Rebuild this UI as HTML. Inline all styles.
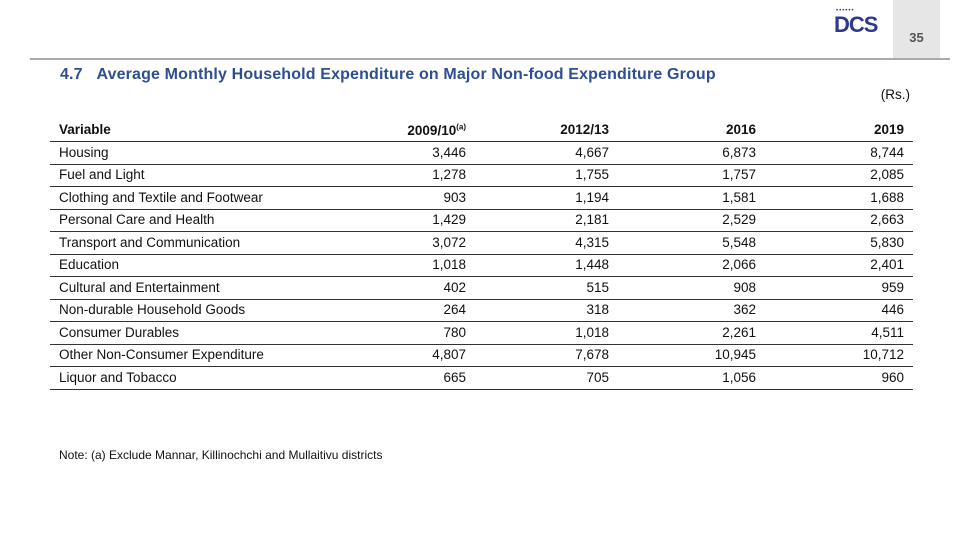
<!DOCTYPE html>
<html><head><meta charset="utf-8"><style>
body{margin:0;width:980px;height:551px;background:#fff;position:relative;overflow:hidden;font-family:"Liberation Sans","DejaVu Sans",sans-serif;color:#111}
.a{position:absolute;white-space:nowrap}
.r{text-align:right}
.t{font-size:13.5px}
.hl{position:absolute;left:50px;width:863px;height:1px;background:#333}
</style></head><body>
<div class="a" style="left:893px;top:0;width:47px;height:58px;background:#e6e6e6"></div>
<div class="a" style="left:893px;top:30px;width:47px;text-align:center;font-size:13px;font-weight:bold;color:#555">35</div>
<div class="a" style="left:834px;top:12px;font-size:22px;font-weight:bold;color:#2b3a8f;letter-spacing:-1px">DCS</div>
<div class="a" style="left:836px;top:8px;font-size:6px;color:#2b3a8f;letter-spacing:1px">••••••</div>
<div class="a" style="left:30px;top:58px;width:920px;height:2px;background:#aaa"></div>
<div class="a" style="left:60px;top:66px;font-size:16px;font-weight:bold;color:#2e4f8f;letter-spacing:0.15px">4.7&nbsp;&nbsp;&nbsp;Average Monthly Household Expenditure on Major Non-food Expenditure Group</div>
<div class="a t" style="left:860px;top:87px;width:50px;text-align:right">(Rs.)</div>
<div id="tbl"></div>
<div class="a" style="left:59px;top:448px;font-size:12px">Note: (a) Exclude Mannar, Killinochchi and Mullaitivu districts</div>
<script>
const categories=["Housing","Fuel and Light","Clothing and Textile and Footwear","Personal Care and Health","Transport and Communication","Education","Cultural and Entertainment","Non-durable Household Goods","Consumer Durables","Other Non-Consumer Expenditure","Liquor and Tobacco"];
const years=["2009/10","2012/13","2016","2019"];
const v2009=["3,446","1,278","903","1,429","3,072","1,018","402","264","780","4,807","665"];
const v2012=["4,667","1,755","1,194","2,181","4,315","1,448","515","318","1,018","7,678","705"];
const v2016=["6,873","1,757","1,581","2,529","5,548","2,066","908","362","2,261","10,945","1,056"];
const v2019=["8,744","2,085","1,688","2,663","5,830","2,401","959","446","4,511","10,712","960"];
const series=[v2009,v2012,v2016,v2019];
const colRight=[466,609,756,904];
const t=document.getElementById('tbl');
function add(html,l,top,w,cls,name){const d=document.createElement('div');d.className='a t '+cls;d.style.left=l+'px';d.style.top=top+'px';if(w)d.style.width=w+'px';d.innerHTML=html;


t.appendChild(d);return d;}
add('<b>Variable</b>',59,122,0,'','header-variable');
years.forEach((y,i)=>{add('<b>'+y+(i==0?'<sup style="font-size:8px">(a)</sup>':'')+'</b>',colRight[i]-120,122,120,'r','header-'+i);});
function line(top,name){const d=document.createElement('div');d.className='hl';d.style.top=top+'px';


t.appendChild(d);}
line(141,'header-rule-line');
categories.forEach((c,r)=>{const top=144.5+r*22.5;
add(c,59,top,0,'','row-label-'+r);
series.forEach((s,i)=>add(s[r],colRight[i]-120,top,120,'r','cell-'+r+'-'+i));
line(141+(r+1)*22.5,'row-line-'+r);});
</script>
</body></html>
